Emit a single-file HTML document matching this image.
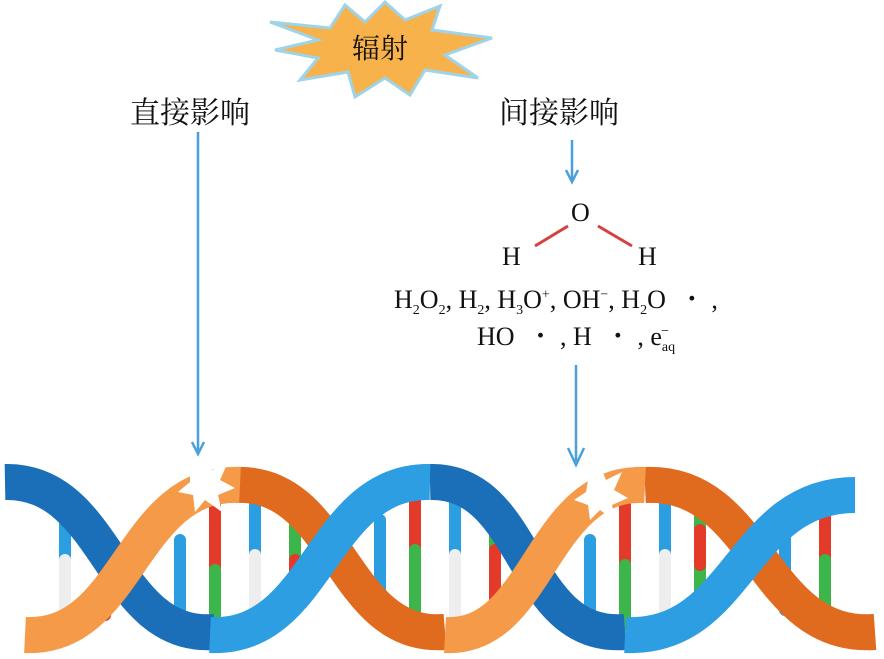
<!DOCTYPE html>
<html><head><meta charset="utf-8"><style>
body{margin:0;width:884px;height:659px;background:#fff;position:relative;overflow:hidden}
.t{position:absolute;font-family:"Liberation Serif","Noto Serif CJK SC",serif;color:#111;white-space:nowrap}
.c{font-family:"Liberation Serif","Noto Serif CJK SC",serif;font-size:30px}
.ch{font-size:26px}
sub,sup{font-size:14px}
</style></head><body>
<svg width="884" height="659" style="position:absolute;left:0;top:0">
<polygon points="270,22 330,28 345,5 365,22 385,2 405,20 440,6 432,30 492,38 445,55 478,78 425,70 410,95 385,78 355,97 348,72 300,80 318,58 275,50 318,40" fill="#f8b24c" stroke="#9fd3e8" stroke-width="3"/>
<g stroke="#4a9fdc" stroke-width="2.5" fill="none">
<line x1="198" y1="132" x2="198" y2="452"/><polyline points="192,442 198,454 204,442"/>
<line x1="572" y1="140" x2="572" y2="180"/><polyline points="566,170 572,182 578,170"/>
<line x1="576" y1="365" x2="576" y2="463"/><polyline points="568,448 576,465 584,448"/>
</g>
<line x1="535" y1="246" x2="568" y2="226" stroke="#d84040" stroke-width="3"/>
<line x1="598" y1="226" x2="632" y2="246" stroke="#d84040" stroke-width="3"/>
<g stroke-linecap="round" stroke-width="12">
<line x1="65" y1="495" x2="65" y2="625" stroke="#2a9ee0"/>
<line x1="65" y1="560" x2="65" y2="625" stroke="#eee"/>
<line x1="105" y1="535" x2="105" y2="615" stroke="#3cb54a"/>
<line x1="105" y1="565" x2="105" y2="615" stroke="#e33a2a"/>
<line x1="180" y1="540" x2="180" y2="620" stroke="#2a9ee0"/>
<line x1="215" y1="495" x2="215" y2="625" stroke="#e33a2a"/>
<line x1="215" y1="570" x2="215" y2="625" stroke="#3cb54a"/>
<line x1="255" y1="485" x2="255" y2="620" stroke="#2a9ee0"/>
<line x1="255" y1="555" x2="255" y2="620" stroke="#eee"/>
<line x1="295" y1="525" x2="295" y2="610" stroke="#3cb54a"/>
<line x1="295" y1="560" x2="295" y2="610" stroke="#e33a2a"/>
<line x1="380" y1="520" x2="380" y2="620" stroke="#2a9ee0"/>
<line x1="415" y1="490" x2="415" y2="625" stroke="#e33a2a"/>
<line x1="415" y1="550" x2="415" y2="625" stroke="#3cb54a"/>
<line x1="455" y1="485" x2="455" y2="620" stroke="#2a9ee0"/>
<line x1="455" y1="555" x2="455" y2="620" stroke="#eee"/>
<line x1="495" y1="515" x2="495" y2="610" stroke="#3cb54a"/>
<line x1="495" y1="550" x2="495" y2="610" stroke="#e33a2a"/>
<line x1="590" y1="540" x2="590" y2="620" stroke="#2a9ee0"/>
<line x1="625" y1="505" x2="625" y2="625" stroke="#e33a2a"/>
<line x1="625" y1="565" x2="625" y2="625" stroke="#3cb54a"/>
<line x1="665" y1="485" x2="665" y2="620" stroke="#2a9ee0"/>
<line x1="665" y1="555" x2="665" y2="620" stroke="#eee"/>
<line x1="700" y1="495" x2="700" y2="610" stroke="#3cb54a"/>
<line x1="700" y1="530" x2="700" y2="565" stroke="#e33a2a"/>
<line x1="785" y1="530" x2="785" y2="610" stroke="#2a9ee0"/>
<line x1="825" y1="495" x2="825" y2="625" stroke="#e33a2a"/>
<line x1="825" y1="560" x2="825" y2="625" stroke="#3cb54a"/>
</g>
<g fill="none" stroke-width="36">
<path d="M5,482 C110,480 110,640 215,632" stroke="#1a6fb8"/>
<path d="M430,482 C530,480 520,640 625,632" stroke="#1a6fb8"/>
<path d="M235,485 C340,480 340,640 445,632" stroke="#e06a1e"/>
<path d="M645,485 C760,480 760,640 875,632" stroke="#e06a1e"/>
<path d="M25,635 C130,640 130,480 240,485" stroke="#f59a48"/>
<path d="M445,635 C540,640 540,480 645,485" stroke="#f59a48"/>
<path d="M210,635 C320,640 320,480 430,482" stroke="#2d9ee2"/>
<path d="M625,635 C740,640 740,495 855,495" stroke="#2d9ee2"/>
</g>
<polygon points="190,470 205,455 212,470 228,462 220,480 235,488 218,495 222,512 205,500 195,512 193,495 178,492 190,482" fill="#fff"/>
<polygon points="588,480 600,465 606,480 622,472 614,490 628,498 612,505 616,522 600,510 590,520 588,505 574,500 586,492" fill="#fff"/>
</svg>
<div class="t c" style="left:352px;top:27px;font-size:28px">辐射</div>
<div class="t c" style="left:130px;top:88px">直接影响</div>
<div class="t c" style="left:499px;top:88px">间接影响</div>
<div class="t ch" style="left:571px;top:198px">O</div>
<div class="t ch" style="left:502px;top:242px">H</div>
<div class="t ch" style="left:638px;top:242px">H</div>
<div class="t ch" style="left:394px;top:279px">H<sub>2</sub>O<sub>2</sub>, H<sub>2</sub>, H<sub>3</sub>O<sup>+</sup>, OH<sup>−</sup>, H<sub>2</sub>O &nbsp;・ ,</div>
<div class="t ch" style="left:477px;top:316px">HO &nbsp;・ , H &nbsp;・ , e<sub>aq</sub><sup style="margin-left:-14px">−</sup></div>
</body></html>
